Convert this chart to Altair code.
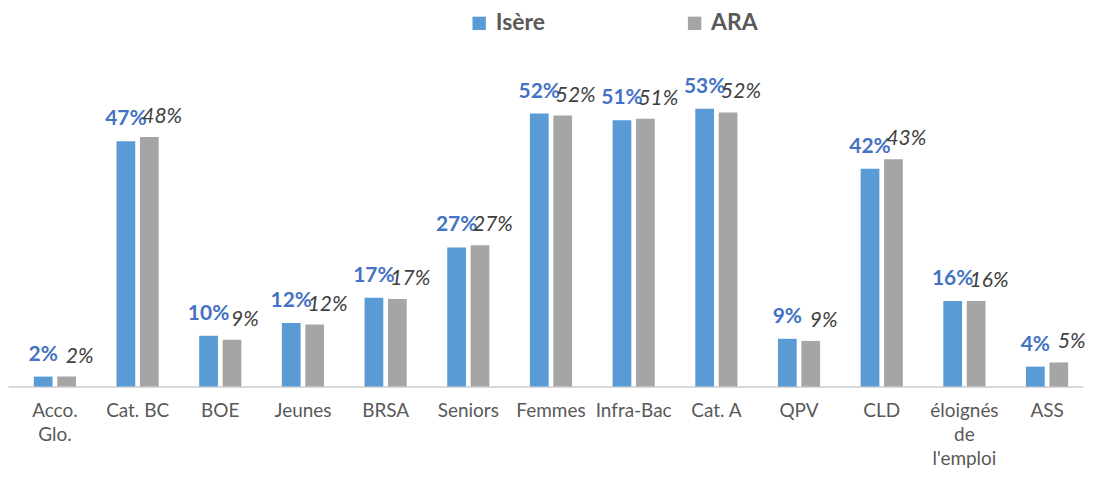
import altair as alt
import pandas as pd

categories = ["Acco.|Glo.", "Cat. BC", "BOE", "Jeunes", "BRSA", "Seniors", "Femmes",
              "Infra-Bac", "Cat. A", "QPV", "CLD", "éloignés|de|l'emploi", "ASS"]
isere = [0.019, 0.467, 0.097, 0.121, 0.169, 0.265, 0.52, 0.507, 0.529, 0.091, 0.415, 0.163, 0.038]
ara = [0.019, 0.475, 0.089, 0.118, 0.167, 0.269, 0.516, 0.51, 0.522, 0.087, 0.433, 0.163, 0.046]
series = ["Isère", "ARA"]
colors = ["#5B9BD5", "#A5A5A5"]

rows = []
for i, c in enumerate(categories):
    rows.append({"cat": c, "serie": series[0], "v": isere[i]})
    rows.append({"cat": c, "serie": series[1], "v": ara[i]})
df = pd.DataFrame(rows)

FONT = "Lato"

x = alt.X("cat:N", sort=categories, title=None,
          scale=alt.Scale(paddingInner=0.49, paddingOuter=0.246, align=0.635),
          axis=alt.Axis(labelExpr="split(datum.value, '|')", labelAngle=0,
                        labelFontSize=19, labelColor="#595959", labelFont=FONT,
                        labelPadding=15, ticks=False, domainColor="#D9D9D9",
                        domainWidth=2, labelLineHeight=24))
y = alt.Y("v:Q", scale=alt.Scale(domain=[0, 0.6]), axis=None)
xo = alt.XOffset("serie:N", sort=series, scale=alt.Scale(paddingInner=0.2))

base = alt.Chart(df)

bars = base.mark_bar().encode(
    x=x, y=y, xOffset=xo,
    color=alt.Color("serie:N", sort=series,
                    scale=alt.Scale(domain=series, range=colors),
                    legend=alt.Legend(title=None, orient="none", direction="horizontal",
                                      legendX=461, legendY=-60, symbolType="square",
                                      symbolSize=180, symbolStrokeWidth=0,
                                      labelFontSize=23, labelFontWeight="bold",
                                      labelColor="#595959", labelFont=FONT,
                                      columnPadding=138, labelOffset=5)),
)

lbl_i = base.transform_filter(alt.datum.serie == "Isère").mark_text(
    baseline="bottom", dy=-12, fontSize=21, fontWeight="bold", color="#4472C4", font=FONT
).encode(x=x, y=y, xOffset=xo, text=alt.Text("v:Q", format=".0%"))

lbl_a = base.transform_filter(alt.datum.serie == "ARA").mark_text(
    baseline="bottom", dx=13, dy=-10, fontSize=21, fontStyle="italic", color="#404040", font=FONT
).encode(x=x, y=y, xOffset=xo, text=alt.Text("v:Q", format=".0%"))

chart = alt.layer(bars, lbl_i, lbl_a).properties(
    width=1078, height=316,
    padding={"left": 0, "right": 0, "top": 3, "bottom": 0}
).configure_view(stroke=None).configure_axis(grid=False)

chart.save("out.html", embed_options={"renderer": "svg", "actions": False})
